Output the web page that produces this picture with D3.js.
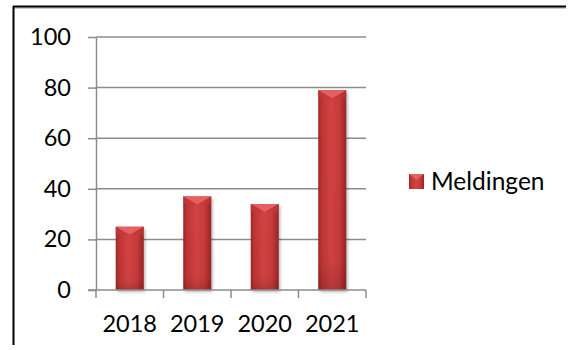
<!DOCTYPE html>
<html>
<head>
<meta charset="utf-8">
<script src="https://cdn.jsdelivr.net/npm/d3@7"></script>
<style>
  html, body { margin: 0; padding: 0; background: #fff; }
  svg { display: block; }
  text { font-family: Lato, "Open Sans", sans-serif; fill: #000; }
</style>
</head>
<body>
<svg id="chart" width="571" height="350"></svg>
<script>
// Yearly report counts
const years = ["2018", "2019", "2020", "2021"];
const meldingen = [25, 37, 34, 79];
const yTicks = [0, 20, 40, 60, 80, 100];
const seriesName = "Meldingen";

const svg = d3.select("#chart");
const plot = { left: 96, right: 366, top: 37, bottom: 290 };

// frame: left and top edges with a soft shadow line
svg.append("line").attr("x1", 13).attr("x2", 566).attr("y1", 8).attr("y2", 8)
  .attr("stroke", "#bbb").attr("stroke-width", 1.5);
svg.append("line").attr("x1", 13).attr("x2", 566).attr("y1", 6.5).attr("y2", 6.5)
  .attr("stroke", "#000").attr("stroke-width", 2);
svg.append("line").attr("x1", 13.5).attr("x2", 13.5).attr("y1", 6).attr("y2", 345)
  .attr("stroke", "#000").attr("stroke-width", 2);

const x = d3.scaleBand().domain(years).range([plot.left, plot.right]).paddingInner(0).paddingOuter(0);
const y = d3.scaleLinear().domain([0, 100]).range([plot.bottom, plot.top]);

const defs = svg.append("defs");
const body = defs.append("linearGradient").attr("id", "barBody").attr("x1", "0").attr("x2", "1").attr("y1", "0").attr("y2", "0");
[["0%", "#9e2626"], ["12%", "#bd3434"], ["45%", "#d24343"], ["75%", "#c83b3b"], ["100%", "#9a2424"]]
  .forEach(([o, c]) => body.append("stop").attr("offset", o).attr("stop-color", c));
const vshade = defs.append("linearGradient").attr("id", "barShade").attr("x1", "0").attr("x2", "0").attr("y1", "0").attr("y2", "1");
[["0%", "#000", 0], ["85%", "#000", 0.02], ["100%", "#000", 0.15]]
  .forEach(([o, c, a]) => vshade.append("stop").attr("offset", o).attr("stop-color", c).attr("stop-opacity", a));
const blur = defs.append("filter").attr("id", "shadowBlur").attr("x", "-20%").attr("y", "-5%").attr("width", "140%").attr("height", "115%");
blur.append("feGaussianBlur").attr("stdDeviation", 1.6);

// gridlines
svg.append("g").selectAll("line").data(yTicks.filter(d => d > 0)).join("line")
  .attr("x1", plot.left).attr("x2", plot.right)
  .attr("y1", d => y(d)).attr("y2", d => y(d))
  .attr("stroke", "#8c8c8c").attr("stroke-width", 1.5);

// y axis
const yAxis = svg.append("g").attr("transform", `translate(${plot.left},0)`)
  .call(d3.axisLeft(y).tickValues(yTicks).tickSize(8).tickPadding(17).tickSizeOuter(0));
yAxis.select(".domain").attr("stroke", "#8c8c8c").attr("stroke-width", 1.5);
yAxis.selectAll(".tick line").attr("stroke", "#8c8c8c").attr("stroke-width", 1.5);
yAxis.selectAll(".tick text").attr("font-size", 23.5).attr("font-family", "Lato, sans-serif").attr("fill", "#000");

const barW = 28;
const bars = svg.append("g");
const bx = d => x(d) + x.bandwidth() / 2 - barW / 2;

// soft shadows
bars.selectAll("rect.sh").data(years).join("rect").attr("class", "sh")
  .attr("x", d => bx(d) + 1.5).attr("width", barW)
  .attr("y", (d, i) => y(meldingen[i]) + 2)
  .attr("height", (d, i) => y(0) - y(meldingen[i]))
  .attr("fill", "#000").attr("opacity", 0.28).attr("filter", "url(#shadowBlur)");

bars.selectAll("rect.b").data(years).join("rect").attr("class", "b")
  .attr("x", bx).attr("width", barW)
  .attr("y", (d, i) => y(meldingen[i]))
  .attr("height", (d, i) => y(0) - y(meldingen[i]))
  .attr("fill", "url(#barBody)");
bars.selectAll("rect.v").data(years).join("rect").attr("class", "v")
  .attr("x", bx).attr("width", barW)
  .attr("y", (d, i) => y(meldingen[i]))
  .attr("height", (d, i) => y(0) - y(meldingen[i]))
  .attr("fill", "url(#barShade)");
// bevelled top
bars.selectAll("path.top").data(years).join("path").attr("class", "top")
  .attr("d", (d, i) => {
    const x0 = bx(d), t = y(meldingen[i]), bev = 8;
    return `M${x0},${t} L${x0 + barW},${t} L${x0 + barW / 2},${t + bev} Z`;
  })
  .attr("fill", "#e56060");
bars.selectAll("path.side").data(years).join("path").attr("class", "side")
  .attr("d", (d, i) => {
    const x0 = bx(d), t = y(meldingen[i]), bev = 8;
    return `M${x0},${t} L${x0 + barW / 2},${t + bev} L${x0},${t + bev} Z M${x0 + barW},${t} L${x0 + barW / 2},${t + bev} L${x0 + barW},${t + bev} Z`;
  })
  .attr("fill", "#c23a3a").attr("opacity", 0.6);

// x axis
const xAxisG = svg.append("g").attr("transform", `translate(0,${plot.bottom})`);
xAxisG.append("line").attr("x1", plot.left - 8).attr("x2", plot.right)
  .attr("stroke", "#8c8c8c").attr("stroke-width", 1.5);
const bounds = years.map(d => x(d)).concat([plot.right]);
xAxisG.selectAll("line.t").data(bounds).join("line").attr("class", "t")
  .attr("x1", d => d).attr("x2", d => d).attr("y1", 0).attr("y2", 8)
  .attr("stroke", "#8c8c8c").attr("stroke-width", 1.5);
xAxisG.selectAll("text").data(years).join("text")
  .attr("x", d => x(d) + x.bandwidth() / 2).attr("y", 42)
  .attr("text-anchor", "middle").attr("font-size", 23.5).text(d => d);

// legend
const lg = svg.append("g").attr("transform", "translate(409,174)");
lg.append("rect").attr("width", 15).attr("height", 15).attr("fill", "url(#barBody)");
lg.append("path").attr("d", "M0,0 L15,0 L7.5,6 Z").attr("fill", "#e56060");
lg.append("text").attr("x", 22).attr("y", 15.5).attr("font-size", 24.5).text(seriesName);
</script>
</body>
</html>
